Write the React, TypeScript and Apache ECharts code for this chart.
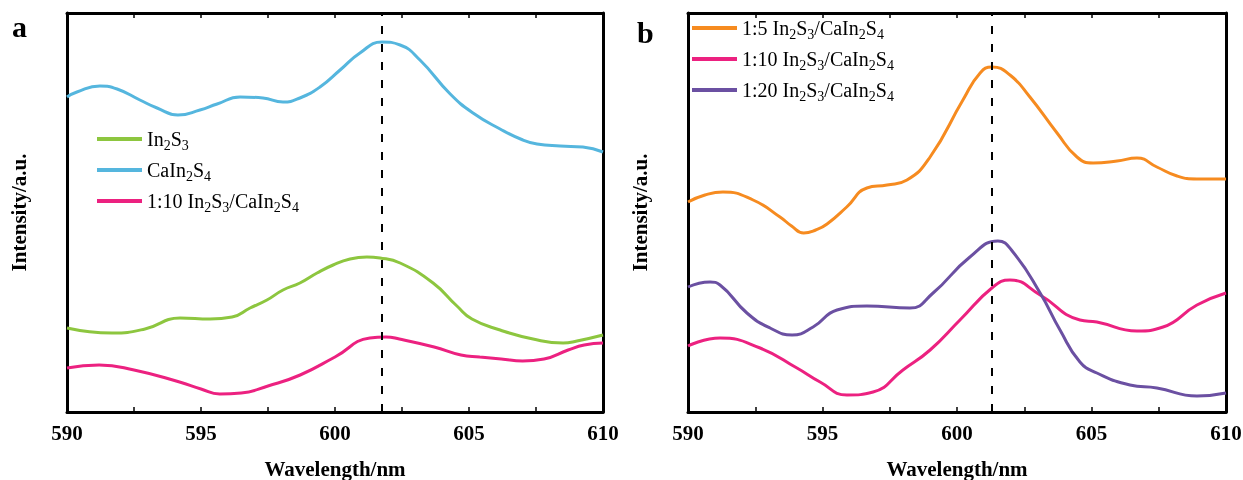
import React, { useEffect, useRef } from "react";
import * as echarts from "echarts";

const FONT = '"Liberation Serif", "Times New Roman", Times, serif';

// Panel a
const in2s3A = [[590,84],[591.68,79],[592.91,83],[594.22,94],[595.34,93],[596.16,95],[596.83,104],[597.46,112],[598.06,122],[598.69,129],[599.33,139],[599.93,147],[600.56,153],[601.19,155],[601.68,154],[602.43,149],[603.66,129],[604.55,106],[605.11,93],[606.16,82],[607.39,73],[608.51,69],[609.03,71],[610,77]];
const cain2s4A = [[590,315],[590.37,320],[591.23,326],[591.87,323],[592.72,312],[593.36,304],[594.14,297],[594.96,302],[595.6,308],[596.46,315],[597.31,314],[598.06,310],[598.69,314],[599.44,325],[600.19,342],[600.93,359],[601.75,370],[602.43,367],[603.17,352],[604.3,318],[605.15,299],[606.16,283],[607.01,272],[607.54,268],[608.4,266],[609.25,265],[610,260]];
const ratio10A = [[590,44],[591.2,47],[592.5,42],[594.2,30],[595.0,23],[595.7,18],[596.5,19],[597.5,26],[598.7,37],[600.0,55],[601.3,74],[601.9,75],[602.4,73],[603.7,65],[604.7,57],[605.4,55],[606.2,53],[607.0,51],[607.8,53],[608.7,62],[609.3,67],[610,69]];

// Panel b
const ratio5B = [[590,210],[590.63,217],[591.3,220],[592.42,212],[593.42,195],[593.85,186],[594.3,179],[594.75,182],[595.17,188],[595.9,205],[596.65,224],[597.4,227],[598.14,232],[599.0,255],[600.22,312],[600.86,339],[601.3,345],[601.97,337],[602.71,315],[603.72,279],[604.46,255],[605.06,249],[605.95,251],[606.69,254],[607.43,245],[608.18,236],[608.92,233],[610,233]];
const ratio10B = [[590,66],[591.19,74],[592.68,64],[594.05,44],[594.91,30],[595.91,17],[596.88,20],[597.99,42],[599.0,62],[600.11,92],[601.34,125],[601.97,132],[603.09,117],[604.57,92],[605.2,90],[606.69,81],[607.66,85],[608.92,107],[610,119]];
const ratio20B = [[590,125],[590.82,130],[591.19,127],[592.19,99],[593.05,84],[593.87,77],[594.65,85],[595.54,102],[596.65,106],[598.25,104],[599.11,119],[600.48,155],[601.52,171],[602.08,160],[603.09,119],[603.83,82],[604.57,50],[605.2,39],[606.43,27],[607.43,24],[608.92,16],[610,19]];

const peakA = 601.75;
const peakB = 601.3;

const legendA = ["In2S3", "CaIn2S4", "1:10 In2S3/CaIn2S4"];
const legendB = ["1:5 In2S3/CaIn2S4", "1:10 In2S3/CaIn2S4", "1:20 In2S3/CaIn2S4"];

const richNames: Record<string, string> = {
  "In2S3": "{n|In}{s|2}{n|S}{s|3}",
  "CaIn2S4": "{n|CaIn}{s|2}{n|S}{s|4}",
  "1:5 In2S3/CaIn2S4": "{n|1:5 In}{s|2}{n|S}{s|3}{n|/CaIn}{s|2}{n|S}{s|4}",
  "1:10 In2S3/CaIn2S4": "{n|1:10 In}{s|2}{n|S}{s|3}{n|/CaIn}{s|2}{n|S}{s|4}",
  "1:20 In2S3/CaIn2S4": "{n|1:20 In}{s|2}{n|S}{s|3}{n|/CaIn}{s|2}{n|S}{s|4}",
};

export default function App() {
  const ref = useRef<HTMLDivElement>(null);
  useEffect(() => {
    if (!ref.current) return;
    const chart = echarts.init(ref.current, undefined, { renderer: "svg" });
    const axisLine = { show: true, onZero: false, lineStyle: { color: "#000", width: 3 } };
    const tick = { show: true, inside: true, length: 5, lineStyle: { color: "#000", width: 1.5 } };
    const minor = { show: true, splitNumber: 2, length: 5, lineStyle: { color: "#000", width: 1.5 } };
    const xBottom = (gi: number) => ({
      type: "value", gridIndex: gi, min: 590, max: 610, interval: 5, position: "bottom",
      axisLine, axisTick: tick, minorTick: minor,
      splitLine: { show: false }, minorSplitLine: { show: false },
      axisLabel: { color: "#000", fontFamily: FONT, fontWeight: "bold", fontSize: 21, margin: 10 },
      name: "Wavelength/nm", nameLocation: "middle", nameGap: 46,
      nameTextStyle: { color: "#000", fontFamily: FONT, fontWeight: "bold", fontSize: 21 },
    });
    const xTop = (gi: number) => ({
      type: "value", gridIndex: gi, min: 590, max: 610, interval: 5, position: "top",
      axisLine, axisTick: tick, minorTick: minor,
      splitLine: { show: false }, minorSplitLine: { show: false }, axisLabel: { show: false },
    });
    const yLeft = (gi: number) => ({
      type: "value", gridIndex: gi, min: 0, max: 399, position: "left",
      axisLine, axisTick: { show: false }, axisLabel: { show: false }, splitLine: { show: false },
      name: "Intensity/a.u.", nameLocation: "middle", nameGap: 38, nameRotate: 90,
      nameTextStyle: { color: "#000", fontFamily: FONT, fontWeight: "bold", fontSize: 21 },
    });
    const yRight = (gi: number) => ({
      type: "value", gridIndex: gi, min: 0, max: 399, position: "right",
      axisLine, axisTick: { show: false }, axisLabel: { show: false }, splitLine: { show: false },
    });
    const rich = {
      n: { fontFamily: FONT, fontSize: 20, color: "#000", lineHeight: 20 },
      s: { fontFamily: FONT, fontSize: 14, color: "#000", lineHeight: 14, padding: [12, 0, 0, 0] },
    };
    const mkLegend = (data: string[], left: number, top: number) => ({
      data, left, top, orient: "vertical", itemWidth: 45, itemHeight: 4, itemGap: 5,
      icon: "rect", selectedMode: false,
      formatter: (name: string) => richNames[name] || name,
      textStyle: { fontFamily: FONT, fontSize: 20, color: "#000", rich },
    });
    const line = (name: string, data: number[][], color: string, xi: number, yi: number, extra: any = {}) => ({
      type: "line", name, data, xAxisIndex: xi, yAxisIndex: yi, smooth: 0.5, symbol: "none",
      lineStyle: { color, width: 3 }, itemStyle: { color }, ...extra,
    });
    const mark = (x: number) => ({
      markLine: {
        silent: true, symbol: "none", label: { show: false },
        lineStyle: { color: "#000", width: 2, type: [8, 10] },
        data: [{ xAxis: x }],
      },
    });
    chart.setOption({
      animation: false,
      grid: [
        { left: 67, top: 13, width: 536, height: 399, containLabel: false, outerBoundsMode: "none" },
        { left: 688, top: 13, width: 538, height: 399, containLabel: false, outerBoundsMode: "none" },
      ],
      xAxis: [xBottom(0), xTop(0), xBottom(1), xTop(1)],
      yAxis: [yLeft(0), yRight(0), yLeft(1), yRight(1)],
      legend: [mkLegend(legendA, 92, 121), mkLegend(legendB, 687, 10)],
      graphic: [
        { type: "text", left: 12, top: 11, style: { text: "a", font: `bold 30px ${FONT}`, fill: "#000" } },
        { type: "text", left: 637, top: 17, style: { text: "b", font: `bold 30px ${FONT}`, fill: "#000" } },
      ],
      series: [
        line("In2S3", in2s3A, "#8dc63f", 0, 0),
        line("CaIn2S4", cain2s4A, "#55b6de", 0, 0, mark(peakA)),
        line("1:10 In2S3/CaIn2S4", ratio10A, "#ec2180", 0, 0),
        line("1:5 In2S3/CaIn2S4", ratio5B, "#f68b20", 2, 2, mark(peakB)),
        line("1:10 In2S3/CaIn2S4", ratio10B, "#ec2180", 2, 2),
        line("1:20 In2S3/CaIn2S4", ratio20B, "#6b50a2", 2, 2),
      ],
    });
    return () => chart.dispose();
  }, []);
  return <div ref={ref} style={{ position: "fixed", left: 0, top: 0, width: 1243, height: 480 }} />;
}
